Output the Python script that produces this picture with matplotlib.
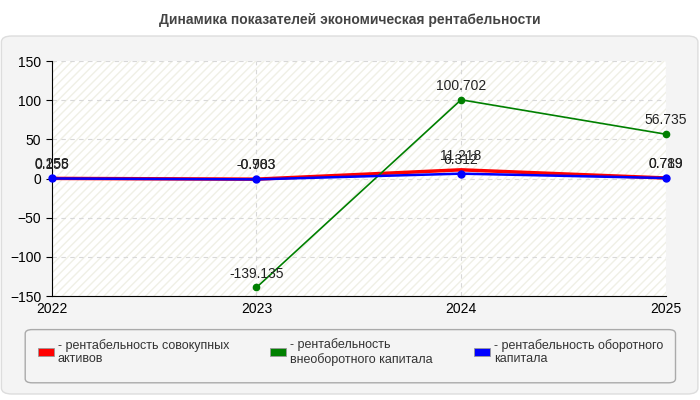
import matplotlib.pyplot as plt
from matplotlib.patches import FancyBboxPatch, Rectangle, Patch

years = ['2022', '2023', '2024', '2025']
total_assets = [0.258, -0.703, 11.218, 0.789]
noncurrent = [None, -139.135, 100.702, 56.735]
current_assets = [0.155, -0.983, 6.312, 0.719]

labels = ['- рентабельность совокупных\nактивов',
          '- рентабельность\nвнеоборотного капитала',
          '- рентабельность оборотного\nкапитала']
colors = ['#ff0000', '#008000', '#0000ff']

plt.rcParams['font.family'] = ['Liberation Sans', 'DejaVu Sans']

fig = plt.figure(figsize=(7, 4), dpi=100)
fig.patch.set_facecolor('white')

# grey rounded panel behind everything
panel = FancyBboxPatch((0.002, 0.015), 0.995, 0.895, boxstyle='round,pad=0,rounding_size=0.015',
                       transform=fig.transFigure, facecolor='#f4f4f4', edgecolor='#dddddd',
                       lw=1, zorder=-10)
fig.patches.append(panel)

# legend box
legbox = FancyBboxPatch((0.036, 0.043), 0.929, 0.133, boxstyle='round,pad=0,rounding_size=0.01',
                        transform=fig.transFigure, facecolor='#f4f4f4', edgecolor='#aaaaaa',
                        lw=1, zorder=-5)
fig.patches.append(legbox)

fig.text(0.5, 0.95, 'Динамика показателей экономическая рентабельности', ha='center', va='center',
         fontsize=10, fontweight='bold', color='#444444')

ax = fig.add_axes([0.074, 0.26, 0.877, 0.587])
ax.set_facecolor('white')
ax.add_patch(Rectangle((0, 0), 1, 1, transform=ax.transAxes, facecolor='none',
                       hatch='////', edgecolor='#f0f0e6', lw=0, zorder=0))

x = list(range(len(years)))
gx = [xi for xi, v in zip(x, noncurrent) if v is not None]
gy = [v for v in noncurrent if v is not None]
ax.plot(x, total_assets, color=colors[0], lw=2.5, zorder=3, clip_on=False)
ax.plot(gx, gy, color=colors[1], lw=1.2, marker='o', ms=4.5, zorder=3, clip_on=False)
ax.plot(x, current_assets, color=colors[2], lw=1.8, marker='o', ms=5, zorder=4, clip_on=False)

for sx, sy in ((x, total_assets), (gx, gy), (x, current_assets)):
    for xi, v in zip(sx, sy):
        ax.annotate(f'{v:g}', (xi, v), xytext=(0, 5), textcoords='offset points',
                    ha='center', va='bottom', fontsize=10, color='#222222', zorder=5)

ax.set_xlim(0, 3)
ax.set_ylim(-150, 150)
ax.set_yticks(range(-150, 151, 50))
ax.set_xticks(x)
ax.set_xticklabels(years)
ax.tick_params(axis='both', labelsize=10, length=4, color='black')
ax.tick_params(axis='x', length=0, pad=4)
ax.grid(True, linestyle=(0, (4, 4)), color='#d8d8d8', lw=0.8)
for s in ('top', 'right'):
    ax.spines[s].set_visible(False)

handles = [Patch(facecolor=c, edgecolor='#999999', lw=0.6) for c in colors]
leg = fig.legend(handles, labels, loc='upper left', bbox_to_anchor=(0.036, 0.176, 0.929, 0.01),
                 mode='expand', ncol=3, frameon=False, fontsize=9, handlelength=1.3,
                 handleheight=0.6, handletextpad=0.3, borderpad=0.5)
for t in leg.get_texts():
    t.set_color('#333333')

fig.savefig('out.png', dpi=100)
